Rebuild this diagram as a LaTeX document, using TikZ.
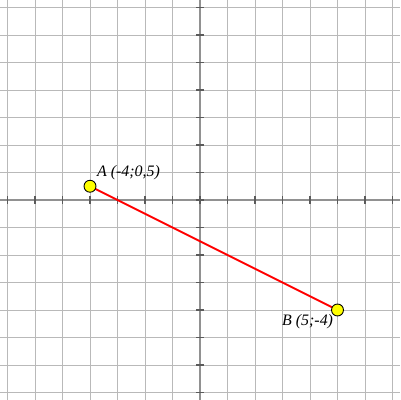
\documentclass[tikz,border=0pt]{standalone}
\usepackage{fontspec}
\setmainfont{Liberation Serif}
\definecolor{gridc}{RGB}{185,185,185}
\definecolor{axisc}{RGB}{145,145,145}
\definecolor{tickc}{RGB}{90,90,90}
\definecolor{ptfill}{RGB}{255,255,0}
\tikzset{
  gridline/.style={draw=gridc, line width=0.9pt},
  axisline/.style={draw=axisc, line width=1.8pt},
  tickmark/.style={draw=tickc, line width=1.2pt},
  segline/.style={draw=red, line width=1.8pt},
  pt/.style={circle, draw=black, fill=ptfill, line width=0.9pt, minimum size=12pt, inner sep=0pt},
  lbl/.style={font=\fontsize{16}{18}\selectfont\itshape, inner sep=0pt}
}
\begin{document}
\begin{tikzpicture}[x=0.970cm, y=0.970cm]
\useasboundingbox (-7.2727,-7.2727) rectangle (7.2727,7.2727);
\fill[white] (-7.2727,-7.2727) rectangle (7.2727,7.2727);
\foreach \i in {-7,...,7} {
  \draw[gridline] (\i,-7.2727) -- (\i,7.2727);
  \draw[gridline] (-7.2727,\i) -- (7.2727,\i);
}
\draw[axisline] (-7.2727,0) -- (7.2727,0);
\draw[axisline] (0,-7.2727) -- (0,7.2727);
\foreach \i in {-7,...,7} {
  \draw[tickmark] (\i,-0.13) -- (\i,0.13);
  \draw[tickmark] (-0.13,\i) -- (0.13,\i);
}
\coordinate (pa) at (-4,0.5);
\coordinate (pb) at (5,-4);
\draw[segline] (pa) -- (pb);
\node[pt] (A) at (pa) {};
\node[pt] (B) at (pb) {};
\node[lbl, anchor=west] (la) at (-3.75,1.0) {A (-4;0,5)};
\node[lbl, anchor=west] (lb) at (2.98,-4.43) {B (5;-4)};
\end{tikzpicture}
\end{document}
